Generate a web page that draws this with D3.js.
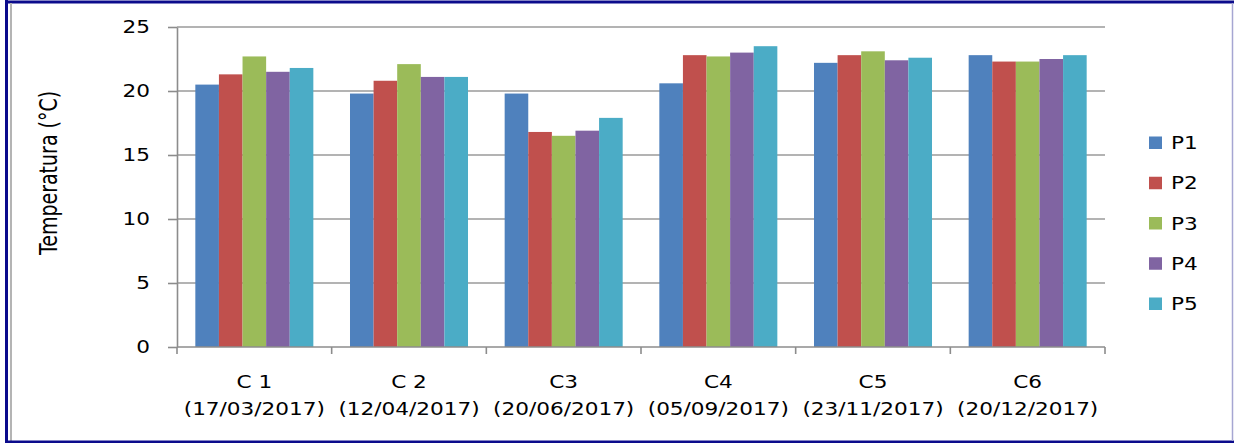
<!DOCTYPE html>
<html>
<head>
<meta charset="utf-8">
<script src="https://cdn.jsdelivr.net/npm/d3@7/dist/d3.min.js"></script>
<style>
  html, body { margin: 0; padding: 0; background: #fff; }
  svg { display: block; }
  text { font-family: "DejaVu Sans", sans-serif; fill: #000; }
</style>
</head>
<body>
<script>
const categories = ["C 1", "C 2", "C3", "C4", "C5", "C6"];
const dates = ["(17/03/2017)", "(12/04/2017)", "(20/06/2017)", "(05/09/2017)", "(23/11/2017)", "(20/12/2017)"];
const seriesNames = ["P1", "P2", "P3", "P4", "P5"];
const P1 = [20.5, 19.8, 19.8, 20.6, 22.2, 22.8];
const P2 = [21.3, 20.8, 16.8, 22.8, 22.8, 22.3];
const P3 = [22.7, 22.1, 16.5, 22.7, 23.1, 22.3];
const P4 = [21.5, 21.1, 16.9, 23.0, 22.4, 22.5];
const P5 = [21.8, 21.1, 17.9, 23.5, 22.6, 22.8];
const seriesValues = [P1, P2, P3, P4, P5];
const colors = ["#4F81BD", "#C0504D", "#9BBB59", "#8064A2", "#4BACC6"];
const yTicks = [0, 5, 10, 15, 20, 25];
const yLabel = "Temperatura (°C)";

const W = 1234, H = 443;
const SX = 1.27; // horizontal stretch of the reference text
const plot = { left: 177, right: 1105, top: 27, bottom: 347 };

const svg = d3.select("body").append("svg").attr("width", W).attr("height", H);

// frame
svg.append("rect").attr("x", 0).attr("y", 0).attr("width", W).attr("height", H).attr("fill", "#fff");
svg.append("line").attr("x1", 5).attr("x2", W).attr("y1", 2).attr("y2", 2).attr("stroke", "#0b0b8c").attr("stroke-width", 3);
svg.append("line").attr("x1", 6.5).attr("x2", 6.5).attr("y1", 0).attr("y2", H).attr("stroke", "#0b0b8c").attr("stroke-width", 3);
svg.append("line").attr("x1", 11).attr("x2", 11).attr("y1", 3).attr("y2", 441).attr("stroke", "#b4b4b4").attr("stroke-width", 2);
svg.append("line").attr("x1", 5).attr("x2", W).attr("y1", 442).attr("y2", 442).attr("stroke", "#0b0b8c").attr("stroke-width", 3);
svg.append("line").attr("x1", 1232.5).attr("x2", 1232.5).attr("y1", 3).attr("y2", 441).attr("stroke", "#a6a6d2").attr("stroke-width", 1.5);

const y = d3.scaleLinear().domain([0, 25]).range([plot.bottom, plot.top]);
const pin = 0.237;
const x0 = d3.scaleBand().domain(categories).range([plot.left, plot.right]).paddingInner(pin).paddingOuter(pin / 2);
const x1 = d3.scaleBand().domain(seriesNames).range([0, x0.bandwidth()]);

// gridlines
svg.append("g").selectAll("line").data(yTicks.filter(d => d > 0)).join("line")
  .attr("x1", plot.left).attr("x2", plot.right)
  .attr("y1", d => y(d)).attr("y2", d => y(d))
  .attr("stroke", "#9a9a9a").attr("stroke-width", 1.6);

// y axis
const yAxis = svg.append("g").attr("transform", `translate(${plot.left},0)`)
  .call(d3.axisLeft(y).tickValues(yTicks).tickSize(9).tickPadding(9).tickSizeOuter(0));
yAxis.select(".domain").attr("stroke", "#8c8c8c").attr("stroke-width", 1.6);
yAxis.selectAll(".tick line").attr("stroke", "#8c8c8c").attr("stroke-width", 1.6);
yAxis.selectAll(".tick text")
  .attr("x", -27 / SX).attr("transform", `scale(${SX},1)`)
  .style("font-family", "DejaVu Sans").style("font-size", "17px").attr("fill", "#000");

// bars
const groups = svg.append("g").selectAll("g").data(categories).join("g")
  .attr("transform", d => `translate(${x0(d)},0)`);
groups.selectAll("rect")
  .data((c, i) => seriesNames.map((s, k) => ({ s, v: seriesValues[k][i], k })))
  .join("rect")
  .attr("x", d => x1(d.s)).attr("width", x1.bandwidth())
  .attr("y", d => y(d.v)).attr("height", d => y(0) - y(d.v))
  .attr("fill", d => colors[d.k]);

// x axis line and boundary ticks
svg.append("line").attr("x1", plot.left).attr("x2", plot.right)
  .attr("y1", plot.bottom).attr("y2", plot.bottom).attr("stroke", "#8c8c8c").attr("stroke-width", 1.6);
const bounds = d3.range(categories.length + 1).map(i => plot.left + i * x0.step());
svg.append("g").selectAll("line").data(bounds).join("line")
  .attr("x1", d => d).attr("x2", d => d).attr("y1", plot.bottom).attr("y2", plot.bottom + 7)
  .attr("stroke", "#8c8c8c").attr("stroke-width", 1.6);

// category labels
const labs = svg.append("g").selectAll("g").data(categories).join("g")
  .attr("transform", d => `translate(${x0(d) + x0.bandwidth() / 2},0) scale(${SX},1)`);
labs.append("text").attr("y", 388).attr("text-anchor", "middle").style("font-size", "17px").text(d => d);
labs.append("text").attr("y", 415).attr("text-anchor", "middle").style("font-size", "17px").text((d, i) => dates[i]);

// y label
svg.append("text")
  .attr("transform", `translate(57,173) rotate(-90) scale(1,1.3)`)
  .attr("text-anchor", "middle").style("font-size", "19px").text(yLabel);

// legend
const leg = svg.append("g").selectAll("g").data(seriesNames).join("g")
  .attr("transform", (d, i) => `translate(1149,${143 + i * 40.25})`);
leg.append("rect").attr("x", 0).attr("y", -6.5).attr("width", 13).attr("height", 12.5).attr("fill", (d, i) => colors[i]);
leg.append("text").attr("transform", `translate(22,6) scale(${SX},1)`).style("font-size", "17px").text(d => d);
</script>
</body>
</html>
